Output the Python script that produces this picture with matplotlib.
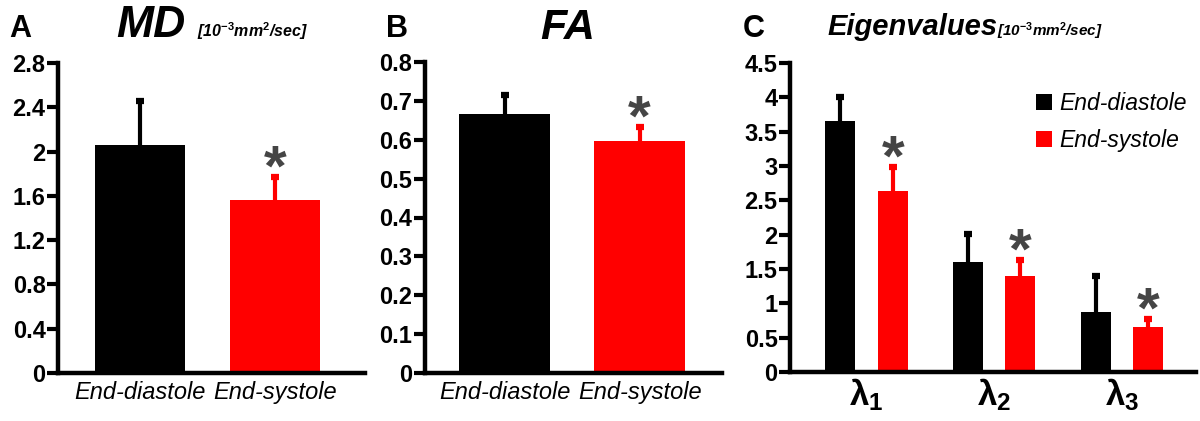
import matplotlib
matplotlib.use("Agg")
import matplotlib.pyplot as plt
import numpy as np

plt.rcParams['font.family'] = ['Liberation Sans', 'DejaVu Sans']
plt.rcParams['mathtext.fontset'] = 'custom'
plt.rcParams['mathtext.rm'] = 'Liberation Sans'
plt.rcParams['mathtext.it'] = 'Liberation Sans:italic'
plt.rcParams['mathtext.bf'] = 'Liberation Sans:bold'

# ---- data ----
phases = ['End-diastole', 'End-systole']
md_mean = [2.06, 1.56]
md_err = [0.40, 0.21]
fa_mean = [0.665, 0.597]
fa_err = [0.050, 0.036]
eig_labels = [r'$\mathbf{\lambda_1}$', r'$\mathbf{\lambda_2}$', r'$\mathbf{\lambda_3}$']
eig_ed_mean = [3.65, 1.60, 0.88]
eig_ed_err = [0.35, 0.41, 0.52]
eig_es_mean = [2.64, 1.40, 0.65]
eig_es_err = [0.35, 0.23, 0.12]
md_ticks = [0, 0.4, 0.8, 1.2, 1.6, 2.0, 2.4, 2.8]
md_ticklabels = ['0', '0.4', '0.8', '1.2', '1.6', '2', '2.4', '2.8']
fa_ticks = [0, 0.1, 0.2, 0.3, 0.4, 0.5, 0.6, 0.7, 0.8]
fa_ticklabels = ['0', '0.1', '0.2', '0.3', '0.4', '0.5', '0.6', '0.7', '0.8']
eig_ticks = [0, 0.5, 1, 1.5, 2, 2.5, 3, 3.5, 4, 4.5]
eig_ticklabels = ['0', '0.5', '1', '1.5', '2', '2.5', '3', '3.5', '4', '4.5']

BLACK = '#000000'
RED = '#ff0000'
STAR = '#454545'

fig = plt.figure(figsize=(12, 4.21), dpi=100)
H = 421.0
W = 1200.0

def axbox(l, r, top_px, bot_px):
    return [l / W, (H - bot_px) / H, (r - l) / W, (bot_px - top_px) / H]

axA = fig.add_axes(axbox(58, 365, 63, 373))
axB = fig.add_axes(axbox(425, 722, 62, 373))
axC = fig.add_axes(axbox(790, 1196, 63, 372))

def style(ax, ticks, labels):
    for s in ['top', 'right']:
        ax.spines[s].set_visible(False)
    for s in ['left', 'bottom']:
        ax.spines[s].set_linewidth(3.2)
    ax.set_yticks(ticks)
    ax.set_yticklabels(labels, fontsize=17, fontweight='bold')
    ax.set_ylim(0, ticks[-1])
    ax.tick_params(axis='y', length=8, width=3, pad=1)
    ax.tick_params(axis='x', length=0, pad=6)

def errs_up(ax, x, vals, errs, color):
    x = np.asarray(x, dtype=float)
    vals = np.asarray(vals, dtype=float)
    tops = vals + np.asarray(errs, dtype=float)
    ax.vlines(x, vals, tops, colors=color, linewidth=3, zorder=1)
    ax.plot(x, tops, linestyle='none', marker='_', markersize=6,
            markeredgewidth=4.5, color=color, zorder=1)

def star(ax, x, top):
    ax.annotate('*', xy=(x, top), xytext=(0, -15), textcoords='offset points',
                ha='center', va='bottom', fontsize=42, fontweight='bold', color=STAR)

# Panel A
xs = np.arange(2)
axA.bar(xs, md_mean, width=0.67, color=[BLACK, RED], zorder=2)
errs_up(axA, xs[0:1], md_mean[0:1], md_err[0:1], BLACK)
errs_up(axA, xs[1:2], md_mean[1:2], md_err[1:2], RED)
style(axA, md_ticks, md_ticklabels)
axA.set_xlim(-0.61, 1.67)
axA.set_xticks(xs)
axA.set_xticklabels(phases, fontsize=17, fontstyle='italic')
star(axA, 1, md_mean[1] + md_err[1])

# Panel B
axB.bar(xs, fa_mean, width=0.67, color=[BLACK, RED], zorder=2)
errs_up(axB, xs[0:1], fa_mean[0:1], fa_err[0:1], BLACK)
errs_up(axB, xs[1:2], fa_mean[1:2], fa_err[1:2], RED)
style(axB, fa_ticks, fa_ticklabels)
axB.set_xlim(-0.59, 1.61)
axB.set_xticks(xs)
axB.set_xticklabels(phases, fontsize=17, fontstyle='italic')
star(axB, 1, fa_mean[1] + fa_err[1])

# Panel C
xg = np.arange(3)
off = 0.205
w = 0.235
axC.bar(xg - off, eig_ed_mean, width=w, color=BLACK, zorder=2, label='End-diastole')
errs_up(axC, xg - off, eig_ed_mean, eig_ed_err, BLACK)
axC.bar(xg + off, eig_es_mean, width=w, color=RED, zorder=2, label='End-systole')
errs_up(axC, xg + off, eig_es_mean, eig_es_err, RED)
style(axC, eig_ticks, eig_ticklabels)
axC.set_xlim(-0.6, 2.58)
axC.set_xticks(xg)
axC.set_xticklabels(eig_labels, fontsize=25)
axC.tick_params(axis='x', pad=3)
for i in range(3):
    star(axC, xg[i] + off, eig_es_mean[i] + eig_es_err[i])
leg = axC.legend(loc='upper right', bbox_to_anchor=(1.0, 0.935), frameon=False,
                 prop={'style': 'italic', 'size': 16.5}, handlelength=0.7,
                 handleheight=0.7, handletextpad=0.3, labelspacing=0.6,
                 borderaxespad=0.0)

# Titles
def yb(px):
    return (H - px) / H

fig.text(9 / W, yb(37), 'A', fontsize=22, fontweight='bold', va='baseline', ha='left')
fig.text(386 / W, yb(37), 'B', fontsize=22, fontweight='bold', va='baseline', ha='left')
fig.text(743 / W, yb(37), 'C', fontsize=22, fontweight='bold', va='baseline', ha='left')

UNIT = r'[10$^{\mathbf{-3}}$mm$^{\mathbf{2}}$/sec]'
fig.text(116 / W, yb(37), 'MD', fontsize=32, fontweight='bold',
         fontstyle='italic', va='baseline', ha='left')
fig.text(197 / W, yb(37), UNIT, fontsize=11.5, fontweight='bold',
         fontstyle='italic', va='baseline', ha='left')
fig.text(540 / W, yb(39), 'FA', fontsize=31, fontweight='bold',
         fontstyle='italic', va='baseline', ha='left')
fig.text(827 / W, yb(35), 'Eigenvalues', fontsize=21, fontweight='bold',
         fontstyle='italic', va='baseline', ha='left')
fig.text(997 / W, yb(36), UNIT, fontsize=11, fontweight='bold',
         fontstyle='italic', va='baseline', ha='left')

fig.savefig('out.png', dpi=100)
